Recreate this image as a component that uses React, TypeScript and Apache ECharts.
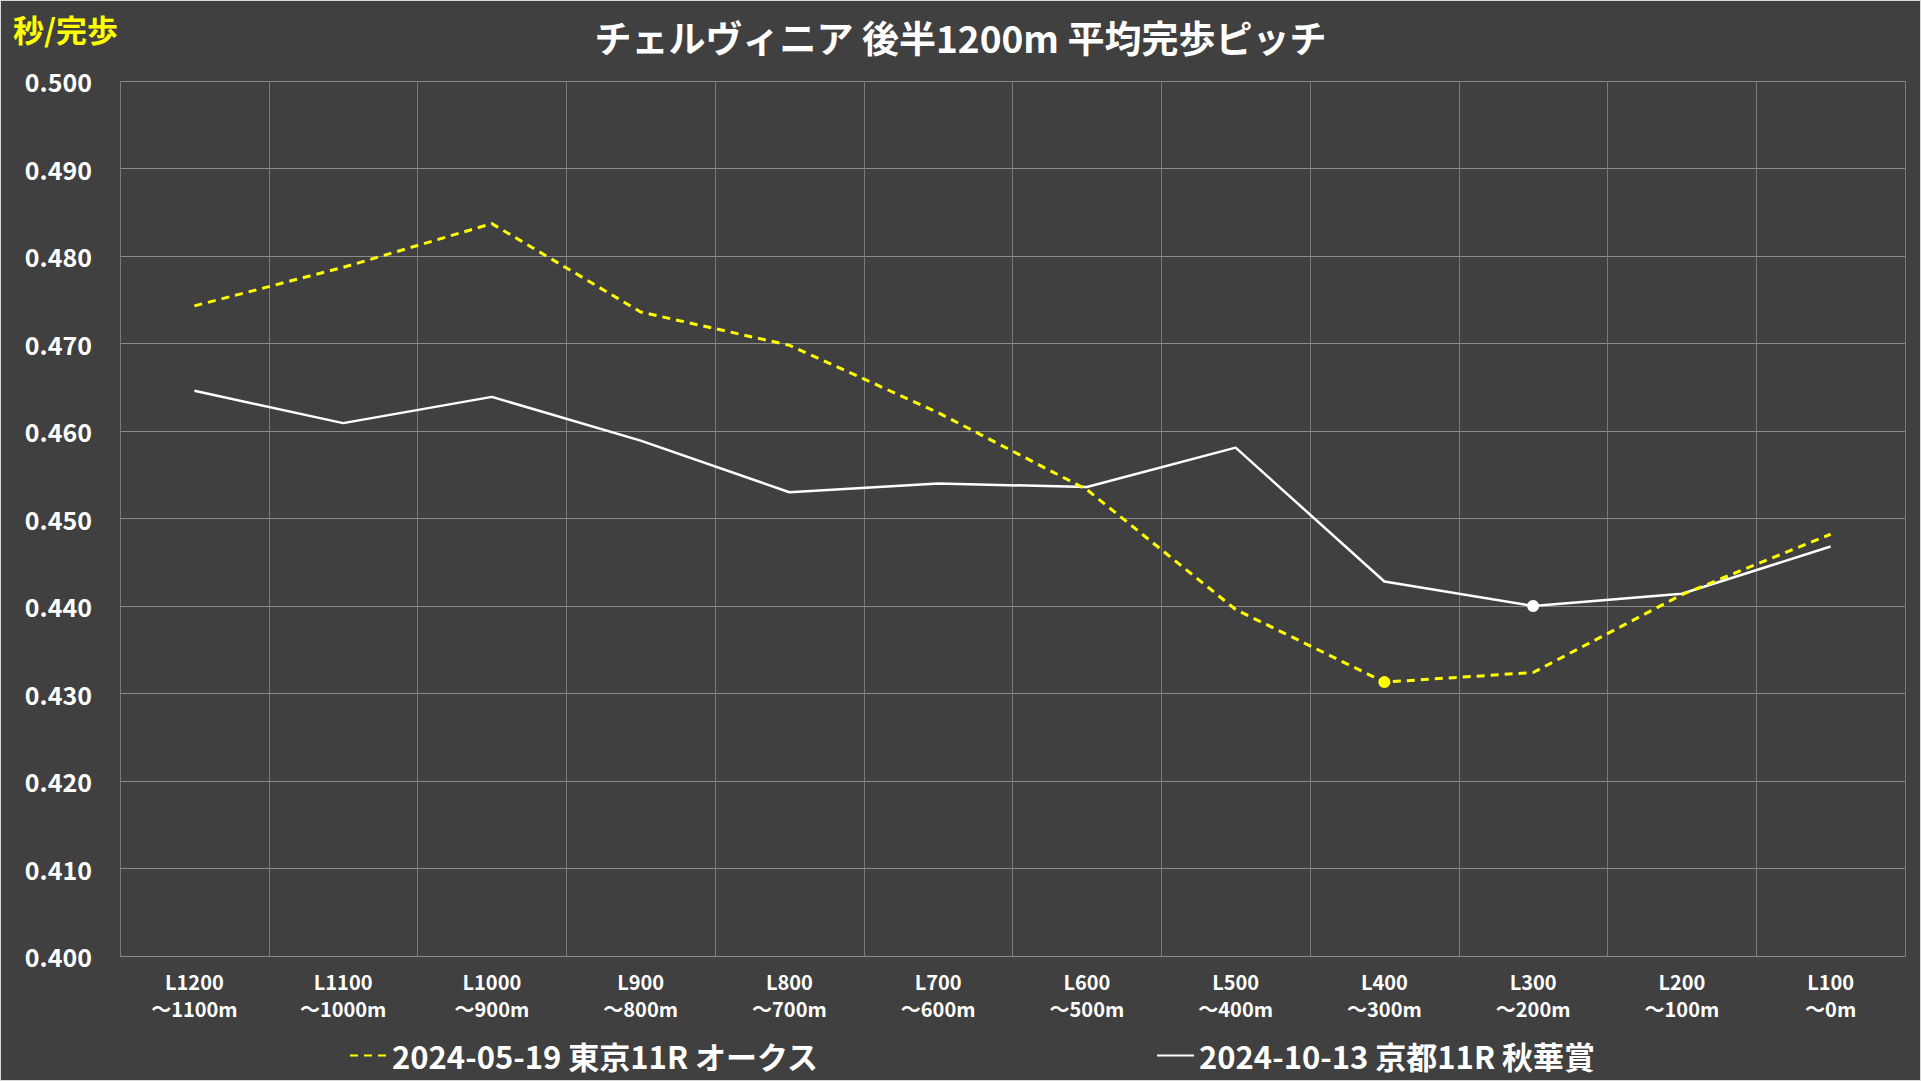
import React, { useEffect, useRef } from "react";
import * as echarts from "echarts";

const categories = [
  "L1200\n～1100m", "L1100\n～1000m", "L1000\n～900m", "L900\n～800m",
  "L800\n～700m", "L700\n～600m", "L600\n～500m", "L500\n～400m",
  "L400\n～300m", "L300\n～200m", "L200\n～100m", "L100\n～0m",
];
const oaksName = "2024-05-19 東京11R オークス";
const shukaName = "2024-10-13 京都11R 秋華賞";
const oaksValues = [0.4743, 0.4787, 0.4837, 0.4736, 0.4698, 0.4621, 0.4533, 0.4396, 0.4313, 0.4324, 0.4413, 0.4482];
const shukaValues = [0.4646, 0.4609, 0.4639, 0.4589, 0.4530, 0.4540, 0.4536, 0.4581, 0.4428, 0.4400, 0.4414, 0.4468];
const yMin = 0.4;
const yMax = 0.5;
const yStep = 0.01;

const FONT = "'Noto Sans CJK JP', 'Noto Sans', sans-serif";

export default function App() {
  const ref = useRef<HTMLDivElement>(null);
  useEffect(() => {
    if (!ref.current) return;
    const chart = echarts.init(ref.current, null, { renderer: "svg" });
    const minMark = (color: string) => ({
      symbol: "circle",
      symbolSize: 12,
      itemStyle: { color },
      label: { show: false },
      data: [{ type: "min" }],
    });
    const legendText = { color: "#ffffff", fontSize: 31, fontWeight: "bold", fontFamily: FONT };
    const legendBase = {
      bottom: 4,
      itemWidth: 37,
      itemHeight: 14,
      itemGap: 4,
      itemStyle: { opacity: 0 },
      textStyle: legendText,
    };
    chart.setOption({
      animation: false,
      backgroundColor: "#404040",
      title: {
        text: "チェルヴィニア 後半1200m 平均完歩ピッチ",
        left: "center",
        top: 12,
        textStyle: { color: "#ffffff", fontSize: 37, fontWeight: "bold", fontFamily: FONT },
      },
      graphic: [
        {
          type: "text",
          left: 12,
          top: 12,
          style: { text: "秒/完歩", fill: "#ffff00", fontSize: 31, fontWeight: "bold", fontFamily: FONT },
        },
      ],
      legend: [
        { ...legendBase, data: [oaksName], left: 343 },
        { ...legendBase, data: [shukaName], left: 1150 },
      ],
      grid: { left: 119, right: 15, top: 80, bottom: 124 },
      xAxis: {
        type: "category",
        data: categories,
        boundaryGap: true,
        axisLine: { show: true, lineStyle: { color: "#8a8a8a", width: 1 } },
        axisTick: { show: false },
        splitLine: { show: true, lineStyle: { color: "#7a7a7a", width: 1 } },
        axisLabel: {
          color: "#ffffff",
          fontSize: 20,
          fontWeight: "bold",
          fontFamily: FONT,
          lineHeight: 27,
          margin: 12,
          interval: 0,
        },
      },
      yAxis: {
        type: "value",
        min: yMin,
        max: yMax,
        interval: yStep,
        axisLine: { show: false },
        axisTick: { show: false },
        splitLine: { show: true, lineStyle: { color: "#8a8a8a", width: 1 } },
        axisLabel: {
          color: "#ffffff",
          fontSize: 25,
          fontWeight: "bold",
          fontFamily: FONT,
          margin: 28,
          verticalAlign: "middle",
          formatter: (v: number) => v.toFixed(3),
        },
      },
      series: [
        {
          name: oaksName,
          type: "line",
          data: oaksValues,
          symbol: "none",
          color: "#ffff00",
          lineStyle: { color: "#ffff00", width: 3, type: [8, 6] },
          itemStyle: { color: "#ffff00" },
          markPoint: minMark("#ffff00"),
          z: 3,
        },
        {
          name: shukaName,
          type: "line",
          data: shukaValues,
          symbol: "none",
          color: "#ffffff",
          lineStyle: { color: "#ffffff", width: 2.5, type: "solid" },
          itemStyle: { color: "#ffffff" },
          markPoint: minMark("#ffffff"),
          z: 2,
        },
      ],
    });
    return () => chart.dispose();
  }, []);
  return (
    <div
      style={{
        position: "fixed",
        left: 0,
        top: 0,
        width: 1921,
        height: 1081,
        boxSizing: "border-box",
        border: "1px solid #d9d9d9",
        background: "#404040",
      }}
    >
      <div ref={ref} style={{ width: "100%", height: "100%" }} />
    </div>
  );
}
